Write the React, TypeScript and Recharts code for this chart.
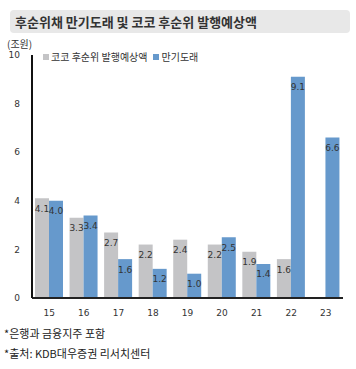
import { BarChart, Bar, XAxis, YAxis, LabelList } from "recharts";

// ── DATA ──────────────────────────────────────────────────────
const years = ["15", "16", "17", "18", "19", "20", "21", "22", "23"];
const cocoIssue = [4.1, 3.3, 2.7, 2.2, 2.4, 2.2, 1.9, 1.6, null];
const maturity = [4.0, 3.4, 1.6, 1.2, 1.0, 2.5, 1.4, 9.1, 6.6];
const yTicks = [0, 2, 4, 6, 8, 10];
const seriesNames = ["코코 후순위 발행예상액", "만기도래"];

const data = years.map((y, i) => ({ year: y, coco: cocoIssue[i], maturity: maturity[i] }));

const KR = "'Noto Sans CJK KR', 'Noto Sans', sans-serif";
const NUM = "'DejaVu Sans', sans-serif";
const GRAY = "#c4c4c6";
const BLUE = "#6699cc";

const fmt = (v: any) => (v == null ? "" : Number(v).toFixed(1));

export default function App() {
    return (
        <div style={{ position: "absolute", left: 0, top: 0, width: 356, height: 369, background: "#fff", fontFamily: KR }}>
            {/* title bar */}
            <div style={{
                position: "absolute", left: 10, top: 10, width: 340, height: 23,
                background: "#e8e8e8", borderRadius: 4,
            }}>
                <span style={{ position: "absolute", left: 5, top: 3, fontSize: 13, fontWeight: 700, color: "#333", lineHeight: "17px" }}>
                    후순위채 만기도래 및 코코 후순위 발행예상액
                </span>
            </div>
            <div style={{ position: "absolute", left: 7, top: 36, fontSize: 10, color: "#333" }}>(조원)</div>

            {/* legend */}
            <div style={{ position: "absolute", left: 43, top: 51, fontSize: 10, color: "#333", display: "flex", alignItems: "center", lineHeight: "12px" }}>
                <span style={{ width: 6, height: 6, background: GRAY, display: "inline-block", marginRight: 2 }} />
                <span style={{ marginRight: 6 }}>{seriesNames[0]}</span>
                <span style={{ width: 6, height: 6, background: BLUE, display: "inline-block", marginRight: 2 }} />
                <span>{seriesNames[1]}</span>
            </div>

            <div style={{ position: "absolute", left: 0, top: 40 }}>
                <BarChart width={356} height={280} data={data}
                    margin={{ top: 15, right: 13, left: 8, bottom: 0 }}
                    barGap={0} barCategoryGap={3}>
                    <XAxis dataKey="year" stroke="#222" strokeWidth={2} tickLine={false}
                        tick={{ fontSize: 9, fill: "#333", fontFamily: NUM }} tickMargin={6} height={22} />
                    <YAxis domain={[0, 10]} ticks={yTicks} stroke="#111" strokeWidth={2} width={24}
                        tickLine={false} tickSize={0} tickMargin={12}
                        tick={{ fontSize: 9, fill: "#333", fontFamily: NUM }} />
                    <Bar dataKey="coco" name={seriesNames[0]} fill={GRAY} isAnimationActive={false}>
                        <LabelList dataKey="coco" position="insideTop" offset={7} formatter={fmt}
                            style={{ fontSize: 9, fill: "#333", fontFamily: NUM }} />
                    </Bar>
                    <Bar dataKey="maturity" name={seriesNames[1]} fill={BLUE} isAnimationActive={false}>
                        <LabelList dataKey="maturity" position="insideTop" offset={7} formatter={fmt}
                            style={{ fontSize: 9, fill: "#333", fontFamily: NUM }} />
                    </Bar>
                </BarChart>
            </div>

            <div style={{ position: "absolute", left: 4, top: 326, fontSize: 11, color: "#222", lineHeight: "14px" }}>
                *은행과 금융지주 포함
            </div>
            <div style={{ position: "absolute", left: 4, top: 346, fontSize: 11, color: "#222", lineHeight: "14px" }}>
                *출처: KDB대우증권 리서치센터
            </div>
        </div>
    );
}
